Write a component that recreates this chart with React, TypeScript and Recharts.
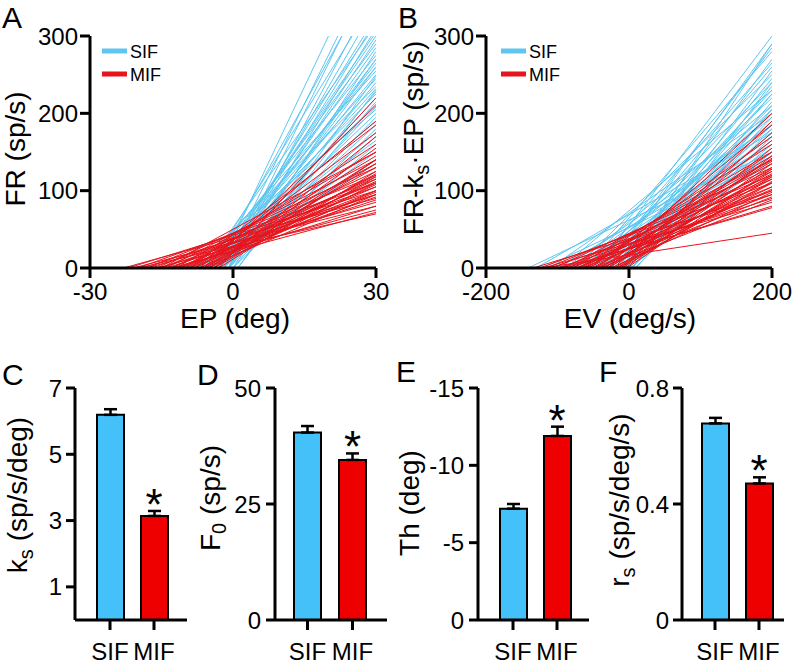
import { LineChart, Line, XAxis, YAxis, ComposedChart, Bar, Cell, ErrorBar, Scatter } from 'recharts'

const FONT = '"Liberation Sans", Arial, Helvetica, sans-serif'
const BLUE_LINE = '#5EC6F0'
const RED_LINE = '#E8141C'
const BLUE_BAR = '#45C1F9'
const RED_BAR = '#EE0000'

// rate-position lines (panel A): [threshold EP (deg), FR at EP = 30]
const sifA: [number, number][] = [
  [-3, 430], [-2, 400], [-4, 380], [-1, 360], [-5, 350], [-2, 340], [-3, 325], [-6, 315],
  [-1, 310], [-4, 305], [-2, 295], [-5, 290], [-3, 285], [0, 280], [-6, 275], [-1, 270],
  [-4, 265], [-2, 260], [-7, 255], [-3, 250], [1, 248], [-5, 245], [-2, 240], [-8, 235],
  [-4, 232], [-1, 228], [-6, 225], [-3, 220], [0, 215], [-5, 212], [-2, 208], [-9, 205],
  [-4, 200], [-1, 195], [-7, 190], [-3, 185], [0, 180], [-5, 175], [-2, 170], [-6, 165],
  [-1, 160], [-4, 150], [-3, 140], [-8, 135], [-2, 320], [-4, 300], [-1, 390], [-3, 270],
  [-5, 260], [1, 230],
]
const mifA: [number, number][] = [
  [-23, 90], [-22, 100], [-21, 80], [-20, 110], [-19, 95], [-18, 120], [-18, 85], [-17, 105],
  [-16, 130], [-16, 75], [-15, 115], [-15, 95], [-14, 140], [-14, 88], [-13, 110], [-13, 125],
  [-12, 100], [-12, 150], [-12, 80], [-11, 118], [-11, 135], [-11, 92], [-10, 105], [-10, 160],
  [-10, 112], [-9, 98], [-9, 145], [-9, 120], [-8, 108], [-8, 175], [-8, 130], [-7, 115],
  [-7, 190], [-7, 100], [-6, 140], [-6, 122], [-6, 210], [-5, 110], [-5, 155], [-5, 135],
  [-4, 118], [-4, 170], [-3, 125], [-3, 220], [-13, 72], [-20, 70], [-9, 185], [-6, 95],
  [-4, 140], [-15, 150],
]

// rate-velocity lines (panel B): [threshold EV (deg/s), FR-ks·EP at EV = 200]
const sifB: [number, number][] = [
  [-141, 150], [-130, 175], [-120, 140], [-110, 200], [-100, 160], [-95, 230], [-90, 185], [-85, 145],
  [-80, 210], [-75, 250], [-70, 170], [-65, 195], [-60, 280], [-58, 155], [-55, 220], [-50, 240],
  [-48, 180], [-45, 300], [-42, 205], [-40, 165], [-38, 260], [-35, 190], [-32, 230], [-30, 150],
  [-28, 290], [-25, 210], [-22, 175], [-20, 245], [-18, 200], [-15, 270], [-12, 185], [-10, 225],
  [-8, 160], [-5, 255], [-3, 195], [0, 215], [3, 180], [5, 240], [8, 170], [10, 205],
  [-65, 135], [-35, 285], [-15, 140], [-52, 265], [-25, 225], [-6, 290], [2, 150], [-78, 185],
  [-45, 200], [-12, 235],
]
const mifB: [number, number][] = [
  [-134, 95], [-125, 110], [-120, 85], [-115, 120], [-110, 100], [-105, 130], [-100, 90], [-95, 115],
  [-90, 140], [-88, 80], [-85, 125], [-80, 105], [-78, 150], [-75, 95], [-72, 135], [-70, 118],
  [-68, 160], [-65, 100], [-62, 128], [-60, 145], [-58, 110], [-55, 170], [-52, 122], [-50, 92],
  [-48, 138], [-45, 185], [-42, 115], [-40, 150], [-38, 105], [-35, 130], [-32, 200], [-30, 120],
  [-28, 142], [-25, 98], [-22, 175], [-20, 125], [-18, 110], [-15, 155], [-12, 135], [-10, 118],
  [-8, 190], [-5, 145], [-3, 128], [-121, 45], [-95, 78], [-45, 102], [-30, 165], [-65, 140],
  [-15, 112], [-40, 88],
]

const frTicks = [0, 100, 200, 300]
const epTicks = [-30, 0, 30]
const evTicks = [-200, 0, 200]

// population summary (mean ± SEM), panels C-F
const groups = ['SIF', 'MIF']
const significant = [false, true]
const ksMean = [6.19, 3.14]
const ksSem = [0.17, 0.15]
const f0Mean = [40.4, 34.5]
const f0Sem = [1.4, 1.4]
const thMean = [-7.2, -11.9]
const thSem = [0.3, 0.6]
const rsMean = [0.678, 0.471]
const rsSem = [0.019, 0.021]

const axisStyle = { stroke: '#000', strokeWidth: 3 }
const tickFont = { fontSize: 24, fontFamily: FONT, fill: '#000' }

function TracePanel({ sif, mif, xTicks }: { sif: [number, number][]; mif: [number, number][]; xTicks: number[] }) {
  const xMin = xTicks[0]
  const xMax = xTicks[xTicks.length - 1]
  const seg = (pairs: [number, number][]) => pairs.map(([th, end]) => [{ x: th, y: 0 }, { x: xMax, y: end }])

  return (
    <LineChart width={400} height={340} margin={{ top: 36, right: 24, left: 0, bottom: 0 }}>
      <XAxis
        type="number"
        dataKey="x"
        domain={[xMin, xMax]}
        ticks={xTicks}
        interval={0}
        allowDataOverflow
        height={72}
        tick={tickFont}
        tickSize={10}
        tickMargin={5}
        axisLine={axisStyle}
        tickLine={axisStyle}
      />
      <YAxis
        type="number"
        domain={[0, 300]}
        ticks={frTicks}
        interval={0}
        allowDataOverflow
        width={90}
        tick={tickFont}
        tickSize={10}
        tickMargin={2}
        axisLine={axisStyle}
        tickLine={axisStyle}
      />
      {seg(sif).map((d, i) => (
        <Line key={'s' + i} data={d} dataKey="y" stroke={BLUE_LINE} strokeWidth={1} dot={false} activeDot={false} isAnimationActive={false} />
      ))}
      {seg(mif).map((d, i) => (
        <Line key={'m' + i} data={d} dataKey="y" stroke={RED_LINE} strokeWidth={1} dot={false} activeDot={false} isAnimationActive={false} />
      ))}
    </LineChart>
  )
}

interface BarPanelProps {
  means: number[]
  sems: number[]
  domain: [number, number]
  ticks: number[]
  yWidth: number
  right: number
  pad: { left: number; right: number }
  reversed?: boolean
  tickMargin: number
}

function BarPanel({ means, sems, domain, ticks, yWidth, right, pad, reversed, tickMargin }: BarPanelProps) {
  const data = groups.map((g, i) => ({
    name: g,
    mean: means[i],
    err: means[i] < 0 ? [sems[i], 0] : [0, sems[i]],
    star: means[i] < 0 ? means[i] - sems[i] : means[i] + sems[i],
    sig: significant[i],
  }))

  return (
    <ComposedChart width={200} height={309} data={data} margin={{ top: 28, right, left: 0, bottom: 0 }}>
      <XAxis
        dataKey="name"
        padding={pad}
        height={49}
        tick={tickFont}
        tickSize={10}
        tickMargin={13}
        axisLine={axisStyle}
        tickLine={axisStyle}
      />
      <YAxis
        type="number"
        domain={domain}
        ticks={ticks}
        interval={0}
        reversed={reversed}
        width={yWidth}
        tick={tickFont}
        tickSize={9}
        tickMargin={tickMargin}
        axisLine={axisStyle}
        tickLine={axisStyle}
      />
      <Bar dataKey="mean" barSize={27} stroke="#000" strokeWidth={2} isAnimationActive={false}>
        {data.map((d, i) => (
          <Cell key={d.name} fill={i === 0 ? BLUE_BAR : RED_BAR} />
        ))}
        <ErrorBar dataKey="err" direction="y" width={6.5} stroke="#000" strokeWidth={2.5} />
      </Bar>
      <Scatter
        dataKey="star"
        isAnimationActive={false}
        shape={(p: any) =>
          p.payload && p.payload.sig ? (
            <text x={p.cx} y={p.cy + 9} textAnchor="middle" fontSize={44} fontFamily={FONT} fill="#000">
              *
            </text>
          ) : (
            <g />
          )
        }
      />
    </ComposedChart>
  )
}

function YTitle({ x, y, children }: { x: number; y: number; children: any }) {
  return (
    <text x={x} y={y} transform={`rotate(-90 ${x} ${y})`} textAnchor="middle" fontSize={28} fontFamily={FONT} fill="#000">
      {children}
    </text>
  )
}

function Letter({ x, y, t }: { x: number; y: number; t: string }) {
  return (
    <text x={x} y={y} fontSize={30} fontFamily={FONT} fill="#000">
      {t}
    </text>
  )
}

function LegendBox({ x }: { x: number }) {
  return (
    <g fontFamily={FONT} fontSize={18} fill="#000">
      <line x1={x} x2={x + 25} y1={51} y2={51} stroke={BLUE_LINE} strokeWidth={5} />
      <text x={x + 28} y={58}>SIF</text>
      <line x1={x} x2={x + 25} y1={74} y2={74} stroke={RED_LINE} strokeWidth={5} />
      <text x={x + 28} y={81}>MIF</text>
    </g>
  )
}

export default function App() {
  return (
    <div style={{ position: 'absolute', left: 0, top: 0, width: 796, height: 669, overflow: 'hidden', background: '#fff', fontFamily: FONT }}>
      <div style={{ position: 'absolute', left: 0, top: 0 }}>
        <TracePanel sif={sifA} mif={mifA} xTicks={epTicks} />
      </div>
      <div style={{ position: 'absolute', left: 396, top: 0 }}>
        <TracePanel sif={sifB} mif={mifB} xTicks={evTicks} />
      </div>

      <div style={{ position: 'absolute', left: 0, top: 360 }}>
        <BarPanel means={ksMean} sems={ksSem} domain={[0, 7]} ticks={[1, 3, 5, 7]} yWidth={75} right={13} pad={{ left: 13, right: 11 }} tickMargin={4} />
      </div>
      <div style={{ position: 'absolute', left: 200, top: 360 }}>
        <BarPanel means={f0Mean} sems={f0Sem} domain={[0, 50]} ticks={[0, 25, 50]} yWidth={75} right={13} pad={{ left: 10, right: 12 }} tickMargin={5} />
      </div>
      <div style={{ position: 'absolute', left: 396, top: 360 }}>
        <BarPanel means={thMean} sems={thSem} domain={[-15, 0]} ticks={[-15, -10, -5, 0]} yWidth={82} right={7} pad={{ left: 13, right: 10 }} reversed tickMargin={5} />
      </div>
      <div style={{ position: 'absolute', left: 596, top: 360 }}>
        <BarPanel means={rsMean} sems={rsSem} domain={[0, 0.8]} ticks={[0, 0.4, 0.8]} yWidth={86} right={12} pad={{ left: 11, right: 3 }} tickMargin={4} />
      </div>

      <svg width={796} height={669} style={{ position: 'absolute', left: 0, top: 0, pointerEvents: 'none' }}>
        <Letter x={2} y={28} t="A" />
        <Letter x={398} y={28} t="B" />
        <Letter x={2} y={385} t="C" />
        <Letter x={197} y={385} t="D" />
        <Letter x={396} y={382} t="E" />
        <Letter x={599} y={382} t="F" />

        <LegendBox x={102} />
        <LegendBox x={501} />

        <YTitle x={25} y={149}>FR (sp/s)</YTitle>
        <YTitle x={423} y={138}>
          FR-k<tspan dy={6} fontSize={20}>s</tspan>
          <tspan dy={-6}>·EP (sp/s)</tspan>
        </YTitle>
        <text x={235} y={328} textAnchor="middle" fontSize={28} fontFamily={FONT}>EP (deg)</text>
        <text x={630} y={328} textAnchor="middle" fontSize={28} fontFamily={FONT}>EV (deg/s)</text>

        <YTitle x={27} y={495}>
          k<tspan dy={6} fontSize={20}>s</tspan>
          <tspan dy={-6}> (sp/s/deg)</tspan>
        </YTitle>
        <YTitle x={220} y={498}>
          F<tspan dy={6} fontSize={20}>0</tspan>
          <tspan dy={-6}> (sp/s)</tspan>
        </YTitle>
        <YTitle x={419} y={503}>Th (deg)</YTitle>
        <YTitle x={629} y={500}>
          r<tspan dy={6} fontSize={20}>s</tspan>
          <tspan dy={-6}> (sp/s/deg/s)</tspan>
        </YTitle>
      </svg>
    </div>
  )
}
